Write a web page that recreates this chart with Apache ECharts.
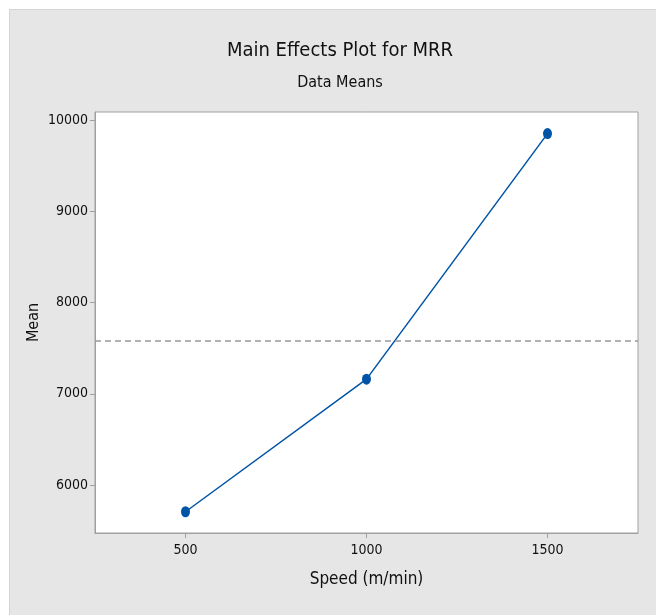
<!DOCTYPE html>
<html>
<head>
<meta charset="utf-8">
<script src="https://cdn.jsdelivr.net/npm/echarts@6/dist/echarts.min.js"></script>
<style>
  html, body { margin: 0; padding: 0; background: #ffffff; }
  #bg { position: absolute; left: 9px; top: 9px; width: 647px; height: 606px; background: #e6e6e6; border-top: 1px solid #d4d4d4; border-left: 1px solid #d4d4d4; box-sizing: border-box; }
  #chart { position: absolute; left: 0; top: 0; width: 656px; height: 615px; }
</style>
</head>
<body>
<div id="bg"></div>
<div id="chart"></div>
<script>
const titleText = 'Main Effects Plot for MRR';
const subtitleText = 'Data Means';
const xName = 'Speed (m/min)';
const yName = 'Mean';
const speeds = [500, 1000, 1500];
const means = [5707, 7161, 9854];
const grandMean = 7580;
const xTicks = [500, 1000, 1500];
const yTicks = [6000, 7000, 8000, 9000, 10000];

const FONT = '"DejaVu Sans Condensed", "Liberation Sans Narrow", sans-serif';

const chart = echarts.init(document.getElementById('chart'), null, { renderer: 'canvas' });
chart.setOption({
  backgroundColor: 'transparent',
  animation: false,
  graphic: [
    { type: 'text', x: 340, y: 51, style: { text: titleText, font: '20px ' + FONT, fill: '#111', textAlign: 'center', textVerticalAlign: 'middle' } },
    { type: 'text', x: 340, y: 83, style: { text: subtitleText, font: '16px ' + FONT, fill: '#111', textAlign: 'center', textVerticalAlign: 'middle' } }
  ],
  grid: {
    left: 95, top: 112, right: 18, bottom: 82,
    show: true, backgroundColor: '#ffffff', borderColor: '#a0a0a0', borderWidth: 1
  },
  xAxis: {
    type: 'value', min: 250, max: 1750,
    name: xName, nameLocation: 'middle', nameGap: 38,
    nameTextStyle: { fontFamily: FONT, fontSize: 17, color: '#111' },
    axisLine: { show: true, lineStyle: { color: '#a0a0a0' } },
    axisTick: { show: true, length: 5, lineStyle: { color: '#a0a0a0' }, customValues: xTicks },
    axisLabel: { fontFamily: FONT, fontSize: 14, color: '#111', margin: 10, customValues: xTicks, formatter: v => String(v) },
    splitLine: { show: false }
  },
  yAxis: {
    type: 'value', min: 5474, max: 10091,
    name: yName, nameLocation: 'middle', nameGap: 53, nameRotate: 90, nameMoveOverlap: false,
    nameTextStyle: { fontFamily: FONT, fontSize: 16, color: '#111' },
    axisLine: { show: true, lineStyle: { color: '#a0a0a0' } },
    axisTick: { show: true, length: 5, lineStyle: { color: '#a0a0a0' }, customValues: yTicks },
    axisLabel: { fontFamily: FONT, fontSize: 14, color: '#111', margin: 7, customValues: yTicks, formatter: v => String(v) },
    splitLine: { show: false }
  },
  series: [{
    type: 'line',
    data: speeds.map((s, i) => [s, means[i]]),
    symbol: 'circle',
    symbolSize: [9, 11],
    itemStyle: { color: '#0054a6' },
    lineStyle: { color: '#0054a6', width: 1.5 },
    markLine: {
      silent: true, symbol: 'none', label: { show: false },
      lineStyle: { type: [6, 4], color: '#999999', width: 1.5 },
      data: [{ yAxis: grandMean }]
    }
  }]
});
</script>
</body>
</html>
